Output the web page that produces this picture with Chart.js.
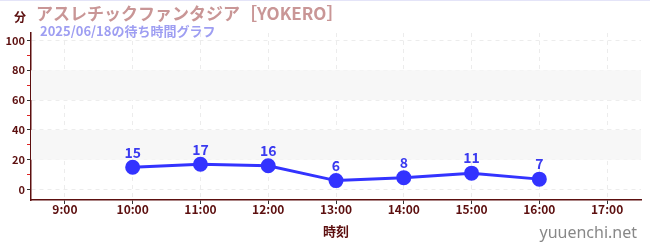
<!DOCTYPE html>
<html>
<head>
<meta charset="utf-8">
<script src="https://cdn.jsdelivr.net/npm/chart.js@4"></script>
<style>
  html, body { margin: 0; padding: 0; background: #fff; }
  #wrap { width: 650px; height: 250px; }
</style>
</head>
<body>
<div id="wrap"><canvas id="chart" width="650" height="250"></canvas></div>
<script>
// Chart data
const hours = [10, 11, 12, 13, 14, 15, 16];
const waitTimes = [15, 17, 16, 6, 8, 11, 7];
const hourTicks = [9, 10, 11, 12, 13, 14, 15, 16, 17];
const minuteTicks = [0, 10, 20, 30, 40, 50, 60, 70, 80, 90, 100];
const bands = [[20, 40], [60, 80]];

const titleText = 'アスレチックファンタジア［YOKERO］';
const subtitleText = '2025/06/18の待ち時間グラフ';
const axisColor = '#5c0f0f';
const jpFont = '"Noto Sans CJK JP", "Noto Sans", sans-serif';

// Draws the shaded bands behind the line
const bandPlugin = {
  id: 'bands',
  beforeDatasetsDraw(chart) {
    const ctx = chart.ctx;
    const area = chart.chartArea;
    const y = chart.scales.y;
    ctx.save();
    ctx.fillStyle = '#f7f7f7';
    bands.forEach(b => {
      const top = y.getPixelForValue(b[1]);
      const bottom = y.getPixelForValue(b[0]);
      ctx.fillRect(area.left, top, area.right - area.left, bottom - top);
    });
    ctx.restore();
  }
};

// Labels above the points plus the texts around the chart
const textPlugin = {
  id: 'texts',
  afterDatasetsDraw(chart) {
    const ctx = chart.ctx;
    const meta = chart.getDatasetMeta(0);
    ctx.save();
    ctx.fillStyle = '#3a3af0';
    ctx.font = 'bold 14px ' + jpFont;
    ctx.textAlign = 'center';
    ctx.textBaseline = 'bottom';
    meta.data.forEach((pt, i) => {
      ctx.fillText(waitTimes[i], pt.x, pt.y - 8);
    });
    ctx.restore();
  },
  afterDraw(chart) {
    const ctx = chart.ctx;
    const area = chart.chartArea;
    ctx.save();
    // top border line
    ctx.strokeStyle = '#e4e4f8';
    ctx.lineWidth = 1;
    ctx.beginPath();
    ctx.moveTo(0, 0.5);
    ctx.lineTo(650, 0.5);
    ctx.stroke();

    ctx.textBaseline = 'middle';
    ctx.textAlign = 'left';
    ctx.fillStyle = axisColor;
    ctx.font = 'bold 12px ' + jpFont;
    ctx.fillText('分', 14, 17);

    ctx.fillStyle = '#c99696';
    ctx.font = 'bold 17px ' + jpFont;
    ctx.fillText(titleText, 36, 14);

    ctx.fillStyle = '#9e9ef2';
    ctx.font = 'bold 13px ' + jpFont;
    ctx.fillText(subtitleText, 40, 31);

    ctx.fillStyle = axisColor;
    ctx.textAlign = 'center';
    ctx.font = 'bold 13px ' + jpFont;
    ctx.fillText('時刻', (area.left + area.right) / 2, 231);

    ctx.fillStyle = '#888888';
    ctx.textAlign = 'right';
    ctx.font = '16px "Noto Sans", sans-serif';
    ctx.fillText('yuuenchi.net', 637, 233);
    ctx.restore();
  }
};

const ctx = document.getElementById('chart').getContext('2d');
const chart = new Chart(ctx, {
  type: 'line',
  data: {
    datasets: [{
      data: hours.map((h, i) => ({ x: h, y: waitTimes[i] })),
      borderColor: '#3333ff',
      backgroundColor: '#3333ff',
      borderWidth: 3,
      pointRadius: 6,
      pointHoverRadius: 6,
      tension: 0
    }]
  },
  options: {
    responsive: false,
    animation: false,
    layout: { padding: { top: 33, right: 9, left: 0, bottom: 0 } },
    plugins: {
      legend: { display: false },
      tooltip: { enabled: false }
    },
    scales: {
      x: {
        type: 'linear',
        min: 8.5,
        max: 17.5,
        afterBuildTicks: scale => {
          scale.ticks = hourTicks.map(v => ({ value: v }));
        },
        afterFit: scale => { scale.height = 50; },
        ticks: {
          color: axisColor,
          font: { family: jpFont, size: 12, weight: 'bold' },
          padding: -2,
          maxRotation: 0,
          callback: v => v + ':00'
        },
        grid: {
          color: '#ececec',
          tickColor: '#333333',
          tickLength: 4,
          tickBorderDash: []
        },
        border: { color: axisColor, width: 1.5, dash: [4, 4] }
      },
      y: {
        min: -7,
        max: 105,
        afterBuildTicks: scale => {
          scale.ticks = minuteTicks.map(v => ({ value: v }));
        },
        afterFit: scale => { scale.width = 31; },
        ticks: {
          color: axisColor,
          font: { family: jpFont, size: 11, weight: 'bold' },
          padding: 2,
          callback: v => (v % 20 === 0 ? v : '')
        },
        grid: {
          color: c => (c.tick && c.tick.value % 20 === 0 ? '#ececec' : 'rgba(0,0,0,0)'),
          tickColor: c => (c.tick && c.tick.value % 20 === 0 ? '#333333' : '#dd2222'),
          tickLength: 4,
          tickBorderDash: []
        },
        border: { color: axisColor, width: 1.5, dash: [4, 4] }
      }
    }
  },
  plugins: [bandPlugin, textPlugin]
});
</script>
</body>
</html>
